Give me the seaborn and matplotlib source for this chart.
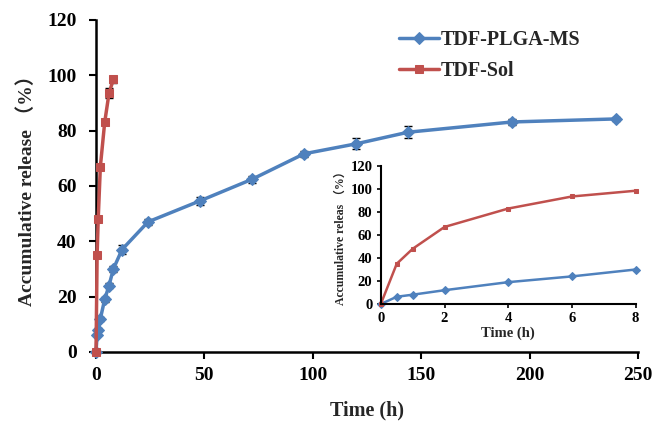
import numpy as np
import pandas as pd
import seaborn as sns
import matplotlib
matplotlib.use("Agg")
import matplotlib.pyplot as plt

sns.set_style("ticks")
plt.rcParams['font.family'] = ['Liberation Serif', 'Noto Sans CJK SC', 'DejaVu Sans']
plt.rcParams['font.weight'] = 'bold'

# Data
ms_time = [0, 0.5, 1, 2, 4, 6, 8, 12, 24, 48, 72, 96, 120, 144, 192, 240]
ms_release = [0, 6.3, 8.1, 12, 19, 24, 30, 37, 47, 54.6, 62.4, 71.6, 75.2, 79.4, 83.1, 84.2]
ms_err = [0, 0.6, 0.6, 0.8, 1.0, 1.0, 1.2, 1.5, 1.0, 1.5, 1.3, 1.0, 2.0, 2.2, 1.0, 0.8]
sol_time = [0, 0.5, 1, 2, 4, 6, 8]
sol_release = [0, 35, 48, 67, 83, 93.5, 98.5]
sol_err = [0, 0.8, 1.0, 1.0, 1.0, 1.8, 1.2]
labels = ["TDF-PLGA-MS", "TDF-Sol"]
main_xticks = [0, 50, 100, 150, 200, 250]
main_yticks = [0, 20, 40, 60, 80, 100, 120]
inset_xticks = [0, 2, 4, 6, 8]
inset_yticks = [0, 20, 40, 60, 80, 100, 120]

blue = "#4F81BD"
red = "#C0504D"

df_ms = pd.DataFrame({"t": ms_time, "r": ms_release})
df_sol = pd.DataFrame({"t": sol_time, "r": sol_release})

fig = plt.figure(figsize=(6.6, 4.22), dpi=100)
ax = fig.add_axes([0.1455, 0.166, 0.821, 0.787])

ax.errorbar(ms_time, ms_release, yerr=ms_err, fmt='none', ecolor='black', elinewidth=1, capsize=3, zorder=1)
ax.errorbar(sol_time, sol_release, yerr=sol_err, fmt='none', ecolor='black', elinewidth=1, capsize=3, zorder=1)
sns.lineplot(data=df_ms, x="t", y="r", ax=ax, color=blue, marker="D", markersize=6,
             markeredgecolor=blue, linewidth=2.5, label=labels[0], zorder=3, clip_on=False)
sns.lineplot(data=df_sol, x="t", y="r", ax=ax, color=red, marker="s", markersize=6,
             markeredgecolor=red, linewidth=2.5, label=labels[1], zorder=3, clip_on=False)

ax.set_xlim(0, 250)
ax.set_ylim(0, 120)
ax.set_xticks(main_xticks)
ax.set_yticks(main_yticks)
ax.tick_params(axis='both', labelsize=14, width=1.5, length=5, direction='out', colors='black')
ax.tick_params(axis='y', pad=9)
ax.tick_params(axis='x', pad=6)
for lab in ax.get_xticklabels() + ax.get_yticklabels():
    lab.set_fontweight('bold')
ax.set_xlabel("Time (h)", fontsize=14.5, fontweight='bold', labelpad=12)
ax.set_ylabel("Accumulative release （%）", fontsize=14, fontweight='bold', labelpad=8)
sns.despine(ax=ax)
for s in ['left', 'bottom']:
    ax.spines[s].set_linewidth(1.8)
    ax.spines[s].set_color('black')

leg = ax.legend(loc='upper left', bbox_to_anchor=(0.525, 1.025), frameon=False,
                prop={'family': 'Liberation Serif', 'weight': 'bold', 'size': 14.5},
                handlelength=2.0, labelspacing=0.55, handletextpad=0.1)

# Inset
axi = fig.add_axes([0.577, 0.2796, 0.386, 0.327])
axi.set_facecolor('none')
df_ms_in = df_ms[df_ms["t"] <= 8]
sns.lineplot(data=df_ms_in, x="t", y="r", ax=axi, color=blue, marker="D", markersize=4.5,
             markeredgecolor=blue, linewidth=1.8, legend=False, clip_on=False)
sns.lineplot(data=df_sol, x="t", y="r", ax=axi, color=red, marker="s", markersize=2.5,
             markeredgecolor=red, linewidth=1.8, legend=False, clip_on=False)
axi.set_xlim(0, 8)
axi.set_ylim(0, 120)
axi.set_xticks(inset_xticks)
axi.set_yticks(inset_yticks)
axi.tick_params(axis='both', labelsize=10.5, width=1.2, length=3, direction='out', colors='black', pad=3)
for lab in axi.get_xticklabels() + axi.get_yticklabels():
    lab.set_fontweight('bold')
axi.set_xlabel("Time (h)", fontsize=10.5, fontweight='bold', labelpad=1)
axi.set_ylabel("Accumulative releas （%）", fontsize=8.5, fontweight='bold', labelpad=3)
sns.despine(ax=axi)
for s in ['left', 'bottom']:
    axi.spines[s].set_linewidth(1.5)
    axi.spines[s].set_color('black')

fig.savefig("out.png", dpi=100, facecolor='white')
